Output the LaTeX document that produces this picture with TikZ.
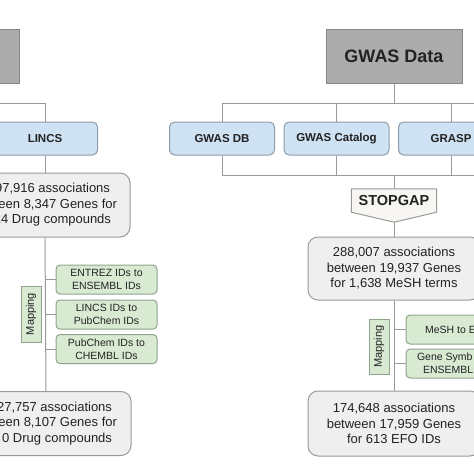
\documentclass[tikz,border=0pt]{standalone}
\usepackage{fontspec}
\setmainfont{Liberation Sans}
\usetikzlibrary{backgrounds}

\definecolor{linegray}{HTML}{999999}
\definecolor{titlefill}{HTML}{ACACAC}
\definecolor{titleline}{HTML}{858585}
\definecolor{srcfill}{HTML}{CFE2F3}
\definecolor{srcline}{HTML}{8D9CAA}
\definecolor{statfill}{HTML}{EFEFEF}
\definecolor{statline}{HTML}{9A9A9A}
\definecolor{mapfill}{HTML}{D9EAD3}
\definecolor{mapline}{HTML}{8FA38A}
\definecolor{stopfill}{HTML}{F8F6F3}
\definecolor{inkgray}{HTML}{222222}

\def\busgap{20}

\begin{document}
\begin{tikzpicture}[x=1pt, y=-1pt,
	link/.style={draw=linegray, line width=1pt},
	titlebox/.style={draw=titleline, fill=titlefill, line width=1pt, inner sep=0pt,
		minimum width=136pt, minimum height=54pt, text=inkgray,
		font=\fontsize{18}{20}\selectfont\bfseries},
	srcbox/.style={draw=srcline, fill=srcfill, line width=1pt, rounded corners=5pt,
		inner sep=0pt, minimum width=105pt, minimum height=33pt, text=inkgray,
		font=\fontsize{11.5}{13}\selectfont\bfseries},
	statbox/.style={draw=statline, fill=statfill, line width=1pt, rounded corners=10pt,
		inner sep=0pt, minimum width=172pt, minimum height=64pt, align=center,
		text=inkgray, font=\fontsize{13}{15.5}\selectfont},
	mapbox/.style={draw=mapline, fill=mapfill, line width=1pt, rounded corners=4pt,
		inner sep=0pt, minimum width=101pt, minimum height=29pt, align=center,
		text=inkgray, font=\fontsize{10.5}{12.6}\selectfont},
	maplabel/.style={draw=mapline, fill=mapfill, line width=1pt, rotate=90,
		inner sep=0pt, minimum height=20pt, text=inkgray,
		font=\fontsize{11}{12}\selectfont},
	stopbox/.style={inner sep=0pt, minimum width=85pt, minimum height=23pt,
		text=inkgray, font=\fontsize{14.5}{16}\selectfont\bfseries},
]

	\useasboundingbox (0,0) rectangle (474,474);
	\clip (0,0) rectangle (474,474);

	% title boxes
	\node[titlebox] (drugs) at (-49,56) {};
	\node[titlebox] (gwas) at (394,56) {GWAS Data};

	% sources
	\node[srcbox] (lincs) at (45,138.5) {LINCS};
	\node[srcbox] (gwasdb) at (222,138.5) {GWAS DB};
	\node[srcbox] (gwascat) at (336.5,138.5) {GWAS Catalog};
	\node[srcbox] (grasp) at (451,138.5) {GRASP};

	\node[stopbox] (stopgap) at (394,200.5) {STOPGAP};
	\coordinate (sgtip) at ([yshift=-10pt]stopgap.south);
	\begin{pgfonlayer}{background}
		\draw[draw=statline, fill=stopfill, line width=1pt] (stopgap.north west) --
			(stopgap.north east) -- (stopgap.south east) -- (sgtip) --
			(stopgap.south west) -- cycle;
	\end{pgfonlayer}

	% association counts
	\node[statbox, minimum width=170pt] (lstat1) at (45,205)
		{\makebox[130pt][r]{97,916 associations}\\
		\makebox[144pt][r]{een 8,347 Genes for}\\
		\makebox[132pt][r]{24 Drug compounds}};
	\node[statbox, minimum width=170pt] (lstat2) at (46,423.5)
		{\makebox[132pt][r]{27,757 associations}\\
		\makebox[142pt][r]{een 8,107 Genes for}\\
		\makebox[132pt][r]{0 Drug compounds}};
	\node[statbox, minimum height=63pt] (gstat1) at (394,268.5)
		{288,007 associations\\between 19,937 Genes\\for 1,638 MeSH terms};
	\node[statbox, minimum height=65pt] (gstat2) at (394,423.5)
		{174,648 associations\\between 17,959 Genes\\for 613 EFO IDs};

	% mappings
	\node[maplabel, minimum width=56pt] (lmap) at (31,314) {Mapping};
	\node[mapbox] (lm1) at (106.5,279.5) {ENTREZ IDs to\\ENSEMBL IDs};
	\node[mapbox] (lm2) at (106.5,314.5) {LINCS IDs to\\PubChem IDs};
	\node[mapbox] (lm3) at (106.5,349) {PubChem IDs to\\CHEMBL IDs};

	\node[maplabel, minimum width=55pt] (gmap) at (379,346.5) {Mapping};
	\node[mapbox] (gm1) at (456.5,329.5) {\makebox[63pt][l]{MeSH to E}};
	\node[mapbox] (gm2) at (456.5,363.5)
		{\makebox[79pt][l]{Gene Symb}\\\makebox[67pt][l]{ENSEMBL}};

	% connectors
	\coordinate (busend) at (520,103);
	\coordinate (lowend) at (520,175);

	\draw[link] (drugs.south) -- ++(0,\busgap) -| (lincs.north);
	\draw[link] (gwas.south) -- ++(0,\busgap) coordinate (gbus);
	\draw[link] (gwasdb.north) |- (busend);
	\draw[link] (gwascat.north) -- (gwascat.north |- gbus);
	\draw[link] (grasp.north) -- (grasp.north |- gbus);

	\draw[link] (gwasdb.south) |- (lowend);
	\draw[link] (gwascat.south) -- (gwascat.south |- lowend);
	\draw[link] (grasp.south) -- (grasp.south |- lowend);
	\draw[link] (stopgap.north) -- (stopgap.north |- lowend);

	\draw[link] (lincs.south) -- (lstat1.north);
	\draw[link] (lstat1.south) -- (lstat2.north);
	\foreach \m in {lm1,lm2,lm3}
		\draw[link] (lincs.south |- \m.west) -- (\m.west);

	\draw[link] (sgtip) -- (gstat1.north);
	\draw[link] (gstat1.south) -- (gstat2.north);
	\foreach \m in {gm1,gm2}
		\draw[link] (gstat1.south |- \m.west) -- (\m.west);

\end{tikzpicture}
\end{document}
